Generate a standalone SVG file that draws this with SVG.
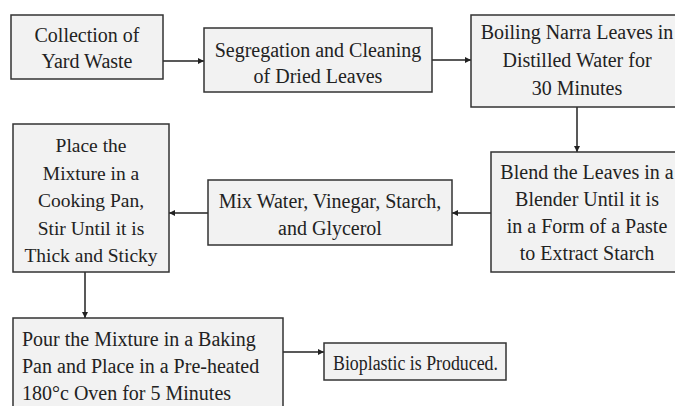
<svg xmlns="http://www.w3.org/2000/svg" width="675" height="406" viewBox="0 0 675 406">
<style>
.box{fill:#f2f2f2;stroke:#333;stroke-width:1.5}
.t{font-family:'Liberation Serif','Times New Roman',serif;font-size:20px;fill:#222;text-anchor:middle}
.s{font-size:19.5px}
.l{text-anchor:start}
.c{stroke:#222;stroke-width:1.5;fill:none;marker-end:url(#ah)}
</style>
<defs>
<marker id="ah" viewBox="0 0 10 10" refX="10" refY="5" markerWidth="6" markerHeight="6" markerUnits="userSpaceOnUse" orient="auto">
<path d="M0,0 L10,5 L0,10 z" fill="#222"/>
</marker>
</defs>
<rect width="675" height="406" fill="#fff"/>
<g id="connectors">
<line class="c" x1="163" y1="61" x2="204" y2="61"/>
<line class="c" x1="432" y1="60" x2="471" y2="60"/>
<line class="c" x1="577" y1="107" x2="577" y2="152"/>
<line class="c" x1="491" y1="213" x2="452" y2="213"/>
<line class="c" x1="208" y1="213" x2="169" y2="213"/>
<line class="c" x1="85" y1="272" x2="85" y2="318"/>
<line class="c" x1="283" y1="352" x2="324" y2="352"/>
</g>
<g id="n1">
<rect class="box" x="11" y="15" width="152" height="64"/>
<text class="t" x="87" y="42">Collection of</text>
<text class="t" x="87" y="68">Yard Waste</text>
</g>
<g id="n2">
<rect class="box" x="204" y="28" width="228" height="64"/>
<text class="t" x="318" y="57">Segregation and Cleaning</text>
<text class="t" x="318" y="83">of Dried Leaves</text>
</g>
<g id="n3">
<rect class="box" x="471" y="15" width="212" height="92"/>
<text class="t" x="577" y="39">Boiling Narra Leaves in</text>
<text class="t" x="577" y="67">Distilled Water for</text>
<text class="t" x="577" y="95">30 Minutes</text>
</g>
<g id="n4">
<rect class="box" x="491" y="152" width="192" height="120"/>
<text class="t" x="587" y="179">Blend the Leaves in a</text>
<text class="t" x="587" y="206">Blender Until it is</text>
<text class="t" x="587" y="233">in a Form of a Paste</text>
<text class="t" x="587" y="260">to Extract Starch</text>
</g>
<g id="n5">
<rect class="box" x="208" y="180" width="244" height="65"/>
<text class="t" x="330" y="208">Mix Water, Vinegar, Starch,</text>
<text class="t" x="330" y="235">and Glycerol</text>
</g>
<g id="n6">
<rect class="box" x="13" y="124" width="156" height="148"/>
<text class="t s" x="91" y="152">Place the</text>
<text class="t s" x="91" y="180">Mixture in a</text>
<text class="t s" x="91" y="207">Cooking Pan,</text>
<text class="t s" x="91" y="235">Stir Until it is</text>
<text class="t s" x="91" y="262">Thick and Sticky</text>
</g>
<g id="n7">
<rect class="box" x="13" y="318" width="270" height="100"/>
<text class="t l" x="22" y="346">Pour the Mixture in a Baking</text>
<text class="t l" x="22" y="373">Pan and Place in a Pre-heated</text>
<text class="t l" x="22" y="400">180°c Oven for 5 Minutes</text>
</g>
<g id="n8">
<rect class="box" x="324" y="343" width="182" height="37"/>
<text class="t l" x="333" y="370" textLength="165" lengthAdjust="spacingAndGlyphs">Bioplastic is Produced.</text>
</g>
</svg>
